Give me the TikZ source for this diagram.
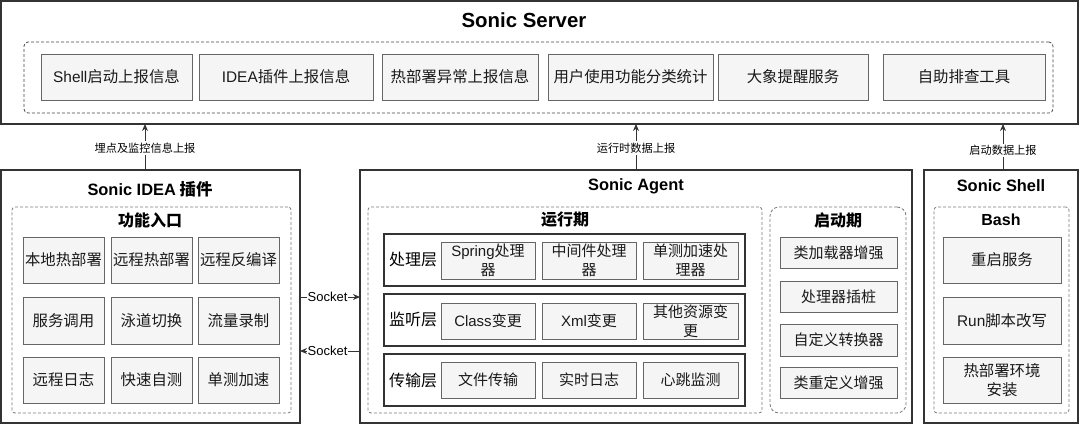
\documentclass[tikz,border=0pt]{standalone}
\usepackage{fontspec}
\setmainfont{Noto Sans CJK SC}
\newfontfamily\lat{Liberation Sans}
\usetikzlibrary{arrows.meta}
\newcommand\la[1]{{\lat #1}}
\newcommand\R[7]{\node[#1, anchor=north west, minimum width={#5-#3}, minimum height={#6-#4}] (#2) at (#3,#4) {#7};}
\definecolor{outc}{HTML}{333333}
\definecolor{dashc}{HTML}{7A7A7A}
\definecolor{boxc}{HTML}{666666}
\definecolor{boxf}{HTML}{F5F5F5}
\definecolor{txt}{HTML}{1A1A1A}
\tikzset{
  every node/.style={inner sep=0pt, outer sep=0pt, text=txt},
  outerbox/.style={draw=outc, line width=1.1pt, fill=white},
  dashbox/.style={draw=dashc, line width=0.8pt, dash pattern=on 3pt off 2pt, rounded corners=3pt},
  dashdark/.style={draw=outc!90, line width=0.8pt, dash pattern=on 3pt off 2pt, rounded corners=4pt},
  dashround/.style={draw=dashc, line width=0.8pt, dash pattern=on 3pt off 2pt, rounded corners=9pt},
  gbox/.style={draw=boxc, line width=0.8pt, fill=boxf, align=center, font=\fontsize{15.4}{18.5}\selectfont},
  sbox/.style={draw=boxc, line width=0.8pt, fill=boxf, align=center, font=\fontsize{15}{18.5}\selectfont},
  layerbox/.style={draw=outc, line width=1.3pt, fill=white},
  title1/.style={font=\lat\bfseries\fontsize{20.4}{24}\selectfont, text=black},
  title2/.style={font=\bfseries\fontsize{16.4}{20}\selectfont, text=black},
  title3/.style={font=\bfseries\fontsize{16}{20}\selectfont, text=black},
  layerlbl/.style={font=\fontsize{16}{20}\selectfont, text=black},
  arr/.style={draw=outc, line width=0.9pt, -{Stealth[length=7pt,width=6pt]}},
  lbl/.style={fill=white, inner sep=1.5pt, font=\fontsize{11.2}{13}\selectfont, text=black},
  slbl/.style={fill=white, inner sep=0.5pt, font=\lat\fontsize{13}{15}\selectfont, text=black},
}
\begin{document}
\begin{tikzpicture}[x=1pt, y=-1pt]
\useasboundingbox (0,0) rectangle (1080,424);

% ---------------- Sonic Server ----------------
\R{outerbox}{srv}{1}{1}{1078}{124}{}
\node[title1] (srvt) at (524,20) {Sonic Server};
\R{dashdark}{srvd}{24}{42}{1053}{113}{}
\R{gbox}{s1}{41}{54}{192}{100}{\la{Shell}启动上报信息}
\R{gbox}{s2}{199}{54}{373}{100}{\la{IDEA}插件上报信息}
\R{gbox}{s3}{382}{54}{538}{100}{热部署异常上报信息}
\R{gbox}{s4}{548}{54}{713}{100}{用户使用功能分类统计}
\R{gbox}{s5}{718}{54}{868}{100}{大象提醒服务}
\R{gbox}{s6}{883}{54}{1045}{100}{自助排查工具}

% ---------------- Sonic IDEA ----------------
\R{outerbox}{idea}{1}{170}{300}{423}{}
\node[title2] (ideat) at (150,189) {\la{Sonic IDEA} 插件};
\R{dashbox}{idead}{12}{207}{291}{413}{}
\node[title3] (ideas) at (150,220) {功能入口};
\R{gbox}{i11}{23}{237}{104}{283}{本地热部署}
\R{gbox}{i12}{111}{237}{192}{283}{远程热部署}
\R{gbox}{i13}{198}{237}{279}{283}{远程反编译}
\R{gbox}{i21}{23}{297}{104}{344}{服务调用}
\R{gbox}{i22}{111}{297}{192}{344}{泳道切换}
\R{gbox}{i23}{198}{297}{279}{344}{流量录制}
\R{gbox}{i31}{23}{357}{104}{403}{远程日志}
\R{gbox}{i32}{111}{357}{192}{403}{快速自测}
\R{gbox}{i33}{198}{357}{279}{403}{单测加速}

% ---------------- Sonic Agent ----------------
\R{outerbox}{agent}{360}{170}{912}{423}{}
\node[title2] (agentt) at (636,186) {\la{Sonic Agent}};
\R{dashbox}{rund}{368}{207}{762}{413}{}
\node[title3] (runt) at (565,220) {运行期};
\R{layerbox}{L1}{384}{234}{745}{286}{}
\R{layerbox}{L2}{384}{294}{745}{346}{}
\R{layerbox}{L3}{384}{354}{745}{406}{}
\node[layerlbl] (L1t) at (413,260) {处理层};
\node[layerlbl] (L2t) at (413,320) {监听层};
\node[layerlbl] (L3t) at (413,380) {传输层};
\R{sbox}{a11}{441}{242}{535}{279}{\la{Spring}处理\\器}
\R{sbox}{a12}{542}{242}{636}{279}{中间件处理\\器}
\R{sbox}{a13}{643}{242}{738}{279}{单测加速处\\理器}
\R{sbox}{a21}{441}{303}{535}{339}{\la{Class}变更}
\R{sbox}{a22}{542}{303}{636}{339}{\la{Xml}变更}
\R{sbox}{a23}{643}{303}{738}{339}{其他资源变\\更}
\R{sbox}{a31}{441}{362}{535}{398}{文件传输}
\R{sbox}{a32}{542}{362}{636}{398}{实时日志}
\R{sbox}{a33}{643}{362}{738}{398}{心跳监测}
\R{dashround}{stad}{770}{207}{906}{413}{}
\node[title3] (stat) at (838,220) {启动期};
\R{sbox}{b1}{780}{237}{897}{268}{类加载器增强}
\R{sbox}{b2}{780}{281}{897}{312}{处理器插桩}
\R{sbox}{b3}{780}{324}{897}{356}{自定义转换器}
\R{sbox}{b4}{780}{367}{897}{398}{类重定义增强}

% ---------------- Sonic Shell ----------------
\R{outerbox}{shell}{924}{170}{1078}{423}{}
\node[title2] (shellt) at (1001,186) {\la{Sonic Shell}};
\R{dashbox}{shelld}{934}{207}{1069}{413}{}
\node[title3] (basht) at (1001,220) {\la{Bash}};
\R{gbox}{h1}{943}{237}{1061}{283}{重启服务}
\R{gbox}{h2}{943}{297}{1061}{344}{\la{Run}脚本改写}
\R{gbox}{h3}{943}{357}{1061}{403}{热部署环境\\安装}

% ---------------- connectors ----------------
\coordinate (c1) at (145,0);
\coordinate (c2) at (636,0);
\coordinate (c3) at (1003,0);
\coordinate (k1) at (0,297);
\coordinate (k2) at (0,351);
\draw[arr] (c1 |- idea.north) -- node[lbl, pos=0.48] {埋点及监控信息上报} (c1 |- srv.south);
\draw[arr] (c2 |- agent.north) -- node[lbl, pos=0.48] {运行时数据上报} (c2 |- srv.south);
\draw[arr] (c3 |- shell.north) -- node[lbl, pos=0.42] {启动数据上报} (c3 |- srv.south);
\draw[arr] (idea.east |- k1) -- node[slbl, pos=0.46] {Socket} (agent.west |- k1);
\draw[arr] (agent.west |- k2) -- node[slbl, pos=0.54] {Socket} (idea.east |- k2);
\end{tikzpicture}
\end{document}
